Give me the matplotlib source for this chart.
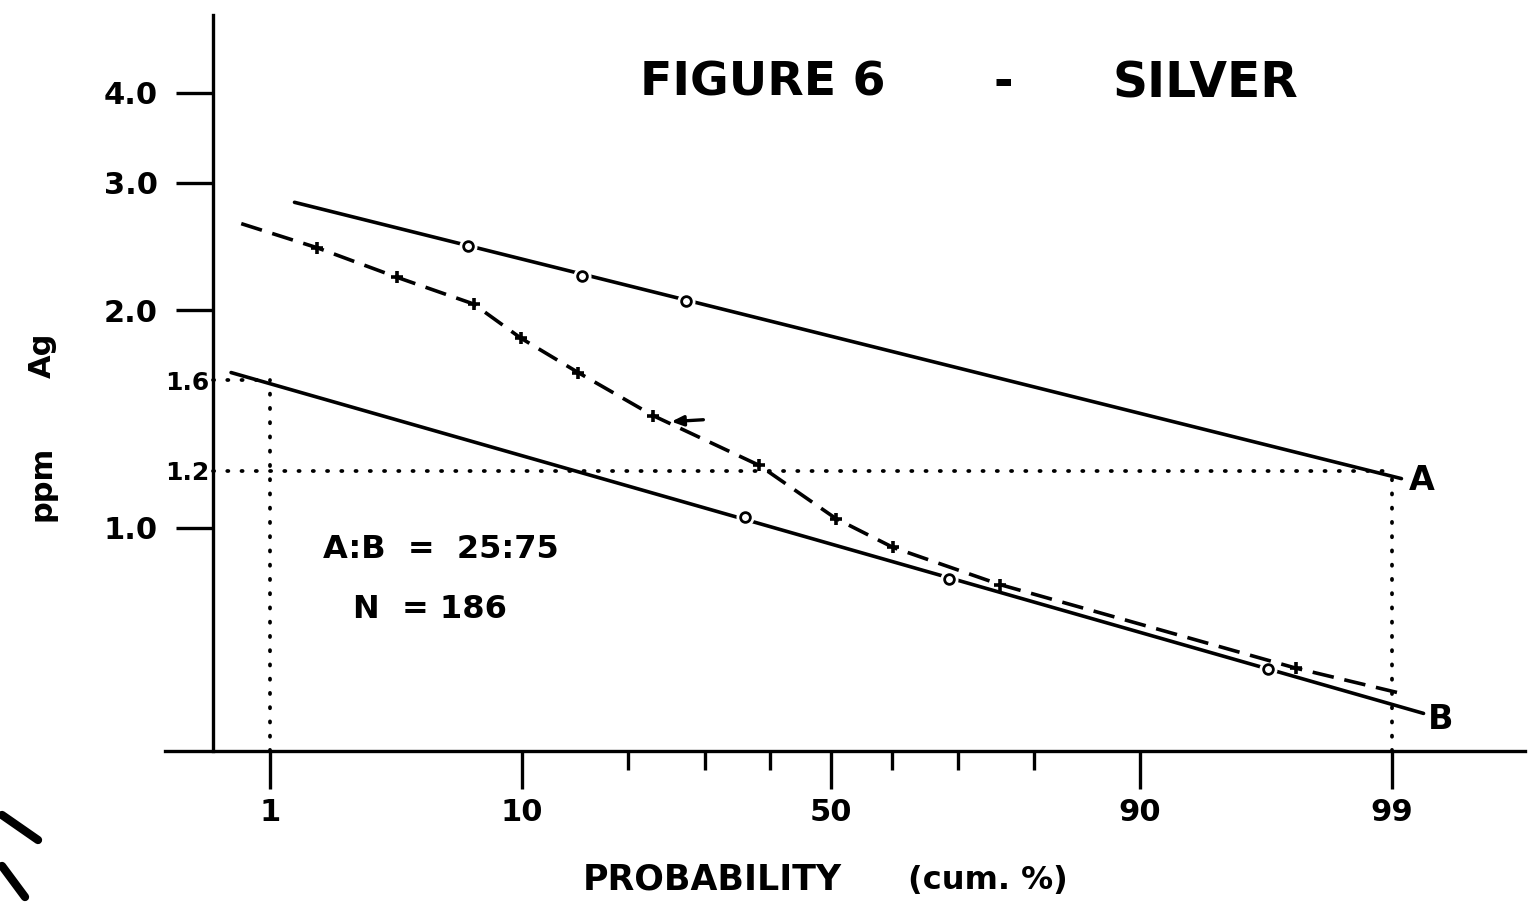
from statistics import NormalDist

import matplotlib
matplotlib.use('Agg')
import matplotlib.pyplot as plt
import numpy as np
from matplotlib.lines import Line2D
from matplotlib.ticker import FixedLocator, FixedFormatter, NullFormatter

# population A: fitted line and plotted points
line_a_pct = [1.3, 99.1]
line_a_ppm = [2.82, 1.17]
pts_a_pct = [6.6, 15.1, 27.4]
pts_a_ppm = [2.45, 2.23, 2.06]

# population B
line_b_pct = [0.64, 99.3]
line_b_ppm = [1.64, 0.554]
pts_b_pct = [36.0, 68.8, 96.5]
pts_b_ppm = [1.035, 0.85, 0.638]

# observed cumulative curve (first and last point carry no marker)
obs_pct = [0.72, 1.65, 3.6, 6.9, 9.9, 14.7, 23.0, 38.3, 50.8, 60.1, 75.8, 97.3, 99.06]
obs_ppm = [2.635, 2.44, 2.22, 2.04, 1.83, 1.64, 1.43, 1.22, 1.03, 0.94, 0.835, 0.64, 0.592]

x_major = [1, 10, 50, 90, 99]
x_minor = [20, 30, 40, 60, 70, 80]
y_major = [1.0, 2.0, 3.0, 4.0]
y_major_labels = ['1.0', '2.0', '3.0', '4.0']
y_minor = [1.2, 1.6]
y_minor_labels = ['1.2', '1.6']

# read-off guides: B at 1 % -> 1.6 ppm, A at 99 % -> 1.2 ppm
guide_pct = [1, 99]
guide_ppm = [1.6, 1.2]

AXIS_PCT = 0.52          # where the ppm axis crosses the probability axis
XLIM = (0.286, 99.80)
YLIM = (0.4915, 5.12)

W, H = 1534, 919

# probability (normal quantile) scale
nd = NormalDist()
_ppf = np.vectorize(nd.inv_cdf, otypes=[float])
_cdf = np.vectorize(nd.cdf, otypes=[float])


def prob_fwd(pct):
    p = np.asarray(pct, dtype=float) / 100.0
    ok = np.isfinite(p)
    p = np.clip(np.where(ok, p, 0.5), 1e-9, 1 - 1e-9)
    return np.where(ok, _ppf(p), np.nan)


def prob_inv(z):
    z = np.asarray(z, dtype=float)
    return _cdf(z) * 100.0


def fx(px):
    return px / W


def fy(py):
    return 1 - py / H


fig = plt.figure(figsize=(W / 100, H / 100), dpi=100)
ax = fig.add_axes([fx(165), fy(751), (1525 - 165) / W, (751 - 15) / H])
ax.set_xscale('function', functions=(prob_fwd, prob_inv))
ax.set_yscale('log')
ax.set_xlim(*XLIM)
ax.set_ylim(*YLIM)

for s in ['top', 'right']:
    ax.spines[s].set_visible(False)
ax.spines['left'].set_position(('data', AXIS_PCT))
ax.spines['left'].set_linewidth(2.4)
ax.spines['bottom'].set_linewidth(2.4)

ax.xaxis.set_major_locator(FixedLocator(x_major))
ax.xaxis.set_major_formatter(FixedFormatter([str(v) for v in x_major]))
ax.xaxis.set_minor_locator(FixedLocator(x_minor))
ax.xaxis.set_minor_formatter(NullFormatter())
ax.yaxis.set_major_locator(FixedLocator(y_major))
ax.yaxis.set_major_formatter(FixedFormatter(y_major_labels))
ax.yaxis.set_minor_locator(FixedLocator(y_minor))
ax.yaxis.set_minor_formatter(FixedFormatter(y_minor_labels))

ax.tick_params(axis='x', which='major', direction='out', length=27, width=2.4, pad=7, labelsize=22)
ax.tick_params(axis='x', which='minor', direction='out', length=14, width=2.4)
ax.tick_params(axis='y', which='major', direction='out', length=27, width=2.4, pad=13, labelsize=22)
ax.tick_params(axis='y', which='minor', length=0, pad=3, labelsize=18)
for lab in ax.get_xticklabels() + ax.get_yticklabels() + ax.get_yticklabels(minor=True):
    lab.set_fontweight('bold')

# dotted read-off guides
dot = (0, (0.3, 3.5))
for pct, ppm in zip(guide_pct, guide_ppm):
    h = ax.hlines(ppm, AXIS_PCT, pct, colors='k', linestyles=dot, linewidth=2.7)
    v = ax.vlines(pct, YLIM[0], ppm, colors='k', linestyles=dot, linewidth=2.7)
    h.set_capstyle('round')
    v.set_capstyle('round')

# lines A and B with open circles (broken line around each circle)
for lp, lv, pp, pv in [(line_a_pct, line_a_ppm, pts_a_pct, pts_a_ppm),
                       (line_b_pct, line_b_ppm, pts_b_pct, pts_b_ppm)]:
    ax.plot(lp, lv, color='k', lw=2.6, solid_capstyle='round', zorder=2)
    ax.plot(pp, pv, 'o', ms=12, color='white', zorder=2.5)
    ax.plot(pp, pv, 'o', ms=7, mfc='white', mec='k', mew=2.0, zorder=4)

# observed data curve
ax.plot(obs_pct, obs_ppm, color='k', lw=2.6, linestyle=(0, (6, 3)),
        marker='+', ms=9, mew=2.6, markevery=list(range(1, len(obs_pct) - 1)), zorder=3)

ax.annotate('', xy=(25.0, 1.402), xytext=(30.2, 1.412),
            arrowprops=dict(arrowstyle='-|>,head_length=0.7,head_width=0.3', lw=2.4, color='k'))

ax.annotate('A', xy=(line_a_pct[-1], line_a_ppm[-1]), xytext=(5, -1.5), textcoords='offset points',
            ha='left', va='center', fontsize=24, fontweight='bold')
ax.annotate('B', xy=(line_b_pct[-1], line_b_ppm[-1]), xytext=(3, -4.5), textcoords='offset points',
            ha='left', va='center', fontsize=24, fontweight='bold')

fig.text(fx(323), fy(550), 'A:B  =  25:75', fontsize=23, fontweight='bold', va='center', ha='left')
fig.text(fx(353), fy(609), 'N  = 186', fontsize=23, fontweight='bold', va='center', ha='left')

# title
fig.text(fx(640), fy(83), 'FIGURE 6', fontsize=34, fontweight='bold', va='center', ha='left')
fig.text(fx(1003), fy(83), '-', fontsize=34, fontweight='bold', va='center', ha='center')
fig.text(fx(1113), fy(83), 'SILVER', fontsize=35, fontweight='bold', va='center', ha='left')

# axis titles
fig.text(fx(42), fy(483), 'ppm', fontsize=22, fontweight='bold', rotation=90, va='center', ha='center')
fig.text(fx(42), fy(355), 'Ag', fontsize=22, fontweight='bold', rotation=90, va='center', ha='center')
fig.text(fx(583), fy(880), 'PROBABILITY', fontsize=25, fontweight='bold', va='center', ha='left')
fig.text(fx(908), fy(880), '(cum. %)', fontsize=23, fontweight='bold', va='center', ha='left')

# pen strokes in the lower-left margin of the scanned sheet
fig.add_artist(Line2D([fx(2), fx(38)], [fy(815), fy(840)], color='k', lw=6, solid_capstyle='round'))
fig.add_artist(Line2D([fx(2), fx(25)], [fy(866), fy(897)], color='k', lw=6, solid_capstyle='round'))

fig.savefig('out.png', dpi=100)
plt.close(fig)
